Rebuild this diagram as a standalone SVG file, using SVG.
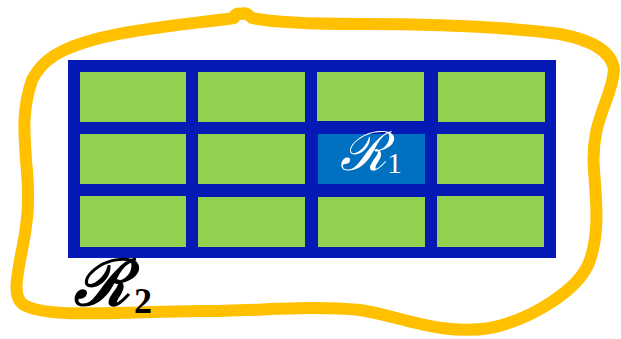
<svg xmlns="http://www.w3.org/2000/svg" width="621" height="339" viewBox="0 0 621 339">
<style>
.cell{fill:#92D050}
.sel{fill:#0070C0}
.blob{fill:none;stroke:#FFC000;stroke-width:12;stroke-linejoin:round;stroke-linecap:round}
.scr{font-family:"DejaVu Serif","Liberation Serif",serif;font-style:italic}
.num{font-family:"Liberation Serif",serif;font-style:normal}
</style>
<rect width="621" height="339" fill="#ffffff"/>
<g id="region2">
<path class="blob" d="M242,14 C236,12 234,16 234,18 C190,24 140,28 100,38 C60,48 42,60 32,80 C22,110 24,130 26,160 C30,200 28,220 22,250 C16,280 12,300 26,306 C50,318 120,312 200,311 C260,311 310,305 360,310 C400,316 440,336 490,328 C530,320 580,290 590,260 C600,230 596,200 594,170 C590,120 612,100 614,70 C612,50 590,40 560,34 C500,26 420,24 360,24 C300,24 270,22 252,18 C248,15 246,12 242,14 Z"/>
</g>
<g id="grid">
<rect x="68" y="60" width="488" height="198" fill="#0519B5"/>
</g>
<g id="cells">
<rect class="cell" x="80" y="72" width="106" height="50"/>
<rect class="cell" x="198" y="72" width="107" height="50"/>
<rect class="cell" x="317" y="72" width="107" height="49"/>
<rect class="cell" x="438" y="72" width="107" height="50"/>
<rect class="cell" x="80" y="134" width="106" height="50"/>
<rect class="cell" x="198" y="134" width="107" height="50"/>
<rect class="cell" x="437" y="134" width="107" height="50"/>
<rect class="cell" x="80" y="196" width="106" height="51"/>
<rect class="cell" x="198" y="197" width="107" height="50"/>
<rect class="cell" x="318" y="197" width="107" height="50"/>
<rect class="cell" x="437" y="196" width="107" height="51"/>
</g>
<g id="r1">
<rect class="sel" x="318" y="134" width="107" height="50"/>
<text x="340" y="170" fill="#ffffff" font-size="54" class="scr">ℛ<tspan class="num" dy="3" font-size="30">1</tspan></text>
</g>
<g id="r2label">
<text x="74" y="305" fill="#000000" font-size="64" font-weight="bold" class="scr">ℛ<tspan class="num" dx="4" dy="8" font-size="36">2</tspan></text>
</g>
</svg>
